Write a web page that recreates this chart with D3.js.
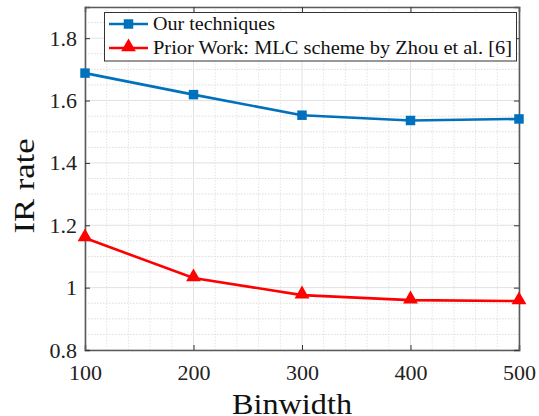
<!DOCTYPE html>
<html><head><meta charset="utf-8">
<script src="https://cdn.jsdelivr.net/npm/d3@7"></script>
<style>body{margin:0;background:#fff}svg{display:block}svg text{font-family:"Liberation Serif",serif}</style>
</head><body>
<script>
const binwidths = [100, 200, 300, 400, 500];
const ourTechniques = [1.688, 1.619, 1.553, 1.536, 1.541];
const priorWork = [1.159, 1.031, 0.976, 0.960, 0.957];
const seriesNames = ["Our techniques", "Prior Work: MLC scheme by Zhou et al. [6]"];
const xTicks = [100, 200, 300, 400, 500];
const yTicks = [0.8, 1, 1.2, 1.4, 1.6, 1.8];

(function () {
const W = 539, H = 416;
const m = {l: 85, r: 20, t: 7, b: 66};
const svg = d3.select("body").append("svg").attr("width", W).attr("height", H);
const x = d3.scaleLinear().domain([100, 500]).range([m.l, W - m.r]);
const y = d3.scaleLinear().domain([0.8, 1.9]).range([H - m.b, m.t]);

// minor grid
const g = svg.append("g");
d3.range(100, 501, 20).forEach(v => {
  if (v % 100 !== 0) g.append("line").attr("x1", x(v)).attr("x2", x(v)).attr("y1", y(0.8)).attr("y2", y(1.9))
    .attr("stroke", "#e4e4e4").attr("stroke-dasharray", "1.5,1.5").attr("stroke-width", 1);
});
d3.range(0, 23).forEach(i => {
  if (i % 4 !== 0) g.append("line").attr("y1", y(0.8 + i * 0.05)).attr("y2", y(0.8 + i * 0.05)).attr("x1", x(100)).attr("x2", x(500))
    .attr("stroke", "#dcdcdc").attr("stroke-dasharray", "1.5,1.5").attr("stroke-width", 1);
});
// major grid
xTicks.forEach(v => g.append("line").attr("x1", x(v)).attr("x2", x(v)).attr("y1", y(0.8)).attr("y2", y(1.9)).attr("stroke", "#e2e2e2"));
yTicks.forEach(v => g.append("line").attr("y1", y(v)).attr("y2", y(v)).attr("x1", x(100)).attr("x2", x(500)).attr("stroke", "#e2e2e2"));

// axes
const axC = "#5a5a5a";
const axB = svg.append("g").attr("transform", `translate(0,${y(0.8)})`)
  .call(d3.axisBottom(x).tickValues(xTicks).tickSize(-5).tickPadding(14).tickFormat(d3.format("d")));
const axT = svg.append("g").attr("transform", `translate(0,${y(1.9)})`)
  .call(d3.axisTop(x).tickValues(xTicks).tickSize(-5).tickFormat(""));
const axL = svg.append("g").attr("transform", `translate(${x(100)},0)`)
  .call(d3.axisLeft(y).tickValues(yTicks).tickSize(-5).tickPadding(8).tickFormat(d => d3.format("")(d)));
const axR = svg.append("g").attr("transform", `translate(${x(500)},0)`)
  .call(d3.axisRight(y).tickValues(yTicks).tickSize(-5).tickFormat(""));
[axB, axT, axL, axR].forEach(a => {
  a.attr("font-family", "Liberation Serif").attr("font-size", 22);
  a.selectAll("path").attr("stroke", axC).attr("stroke-width", 1.6);
  a.selectAll("line").attr("stroke", "#333");
  a.selectAll("text").attr("fill", "#222");
});

// lines
const blue = "#0072BD", red = "#FF0000";
const line = vals => d3.line().x((d, i) => x(binwidths[i])).y(d => y(d))(vals);
svg.append("path").attr("d", line(ourTechniques)).attr("fill", "none").attr("stroke", blue).attr("stroke-width", 2.6);
svg.append("path").attr("d", line(priorWork)).attr("fill", "none").attr("stroke", red).attr("stroke-width", 2.6);
const sq = d3.symbol().type(d3.symbolSquare).size(90);
const tri = d3.symbol().type(d3.symbolTriangle).size(95);
ourTechniques.forEach((v, i) => svg.append("path").attr("d", sq()).attr("transform", `translate(${x(binwidths[i])},${y(v)})`).attr("fill", blue));
priorWork.forEach((v, i) => svg.append("path").attr("d", tri()).attr("transform", `translate(${x(binwidths[i])},${y(v) - 1})`).attr("fill", red));

// legend
const lg = svg.append("g");
lg.append("rect").attr("x", 104.5).attr("y", 12.5).attr("width", 412).attr("height", 48.5).attr("fill", "#fff").attr("stroke", "#333").attr("stroke-width", 1);
const lens = [122, 359];
[[blue, sq, 24], [red, tri, 48]].forEach(([c, s, yy], i) => {
  lg.append("line").attr("x1", 109).attr("x2", 148).attr("y1", yy).attr("y2", yy).attr("stroke", c).attr("stroke-width", 2.6);
  lg.append("path").attr("d", s()).attr("transform", `translate(128.5,${yy - (i ? 1 : 0)})`).attr("fill", c);
  lg.append("text").attr("x", 153).attr("y", yy + 6).style("font-size", "19px")
    .attr("textLength", lens[i]).attr("lengthAdjust", "spacingAndGlyphs").attr("fill", "#111").text(seriesNames[i]);
});

// axis titles
svg.append("text").attr("x", 292).attr("y", 414).attr("text-anchor", "middle")
  .style("font-size", "30px").attr("textLength", 120).attr("lengthAdjust", "spacingAndGlyphs")
  .attr("fill", "#111").text("Binwidth");
svg.append("text").attr("transform", `translate(34,186) rotate(-90)`).attr("text-anchor", "middle")
  .style("font-size", "30px").attr("textLength", 95).attr("lengthAdjust", "spacingAndGlyphs")
  .attr("fill", "#111").text("IR rate");
})();
</script>
</body></html>
